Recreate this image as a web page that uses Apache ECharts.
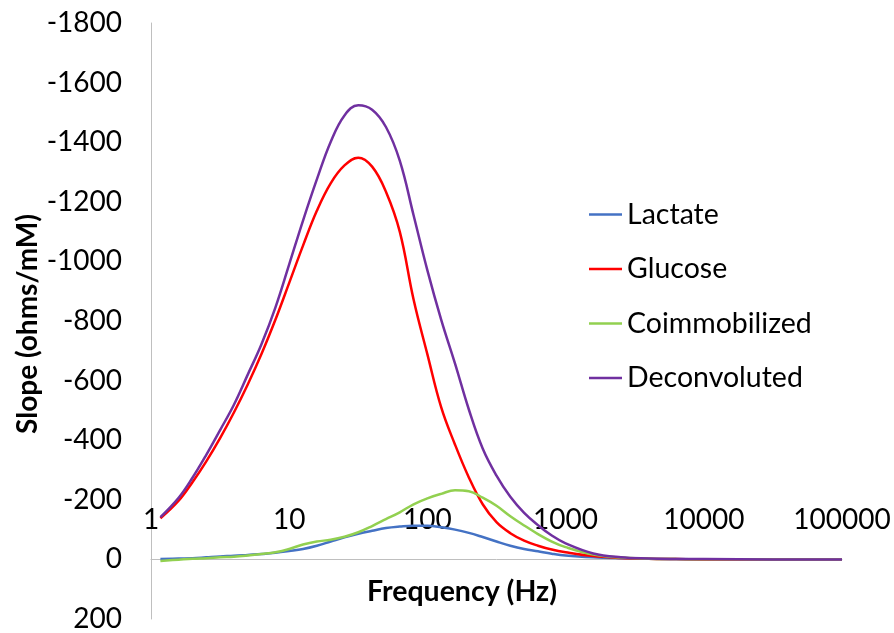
<!DOCTYPE html>
<html>
<head>
<meta charset="utf-8">
<script src="https://cdn.jsdelivr.net/npm/echarts@6/dist/echarts.min.js"></script>
<style>
  html, body { margin: 0; padding: 0; background: #ffffff; }
  #chart { width: 894px; height: 633px; }
</style>
</head>
<body>
<div id="chart"></div>
<script>
// Frequencies (Hz)
const frequency = [1.17, 1.585, 1.995, 2.512, 3.162, 3.981, 5.012, 6.31, 7.943, 10,
  12.59, 15.85, 19.95, 25.12, 31.62, 39.81, 50.12, 63.1, 79.43, 100,
  125.9, 158.5, 199.5, 251.2, 316.2, 398.1, 501.2, 631, 794.3, 1000,
  1585, 2512, 3981, 6310, 10000, 31623, 100000];

const lactate = [-1, -3, -4, -7, -10, -12, -15, -18, -22, -28,
  -35, -46, -60, -74, -86, -96, -105, -110, -113, -113,
  -108, -100, -89, -75, -60, -46, -35, -27, -19, -13,
  -7, -4, -2, -1, -0.5, 0, 0];

const glucose = [-138, -197, -259, -329, -407, -493, -587, -690, -804, -928,
  -1053, -1170, -1262, -1322, -1348, -1318, -1234, -1100, -872, -688,
  -510, -385, -275, -185, -125, -88, -63, -46, -33, -24,
  -11, -5, -2, -1, 0, 0, 0];

const coimmobilized = [5, 1, -2, -4, -7, -9, -13, -18, -24, -35,
  -50, -60, -66, -76, -91, -112, -135, -158, -185, -205,
  -220, -232, -229, -207, -180, -145, -114, -85, -60, -41,
  -16, -6, -2.5, -1, -0.5, 0, 0];

const deconvoluted = [-142, -207, -274, -351, -434, -519, -620, -723, -845, -990,
  -1137, -1275, -1401, -1490, -1524, -1509, -1451, -1338, -1155, -970,
  -804, -657, -503, -372, -281, -210, -156, -115, -80, -54,
  -20, -7, -3, -1.5, -1, 0, 0];

const seriesNames = ['Lactate', 'Glucose', 'Coimmobilized', 'Deconvoluted'];
const seriesColors = ['#4472C4', '#FF0000', '#92D050', '#7030A0'];
const seriesValues = [lactate, glucose, coimmobilized, deconvoluted];

const yTicks = { min: -1800, max: 200, interval: 200 };
const xRange = { min: 1, max: 100000 };

const FONT = 'Lato';

const chart = echarts.init(document.getElementById('chart'), null, { renderer: 'canvas' });

const series = seriesNames.map((name, i) => ({
  name: name,
  type: 'line',
  xAxisIndex: 0,
  smooth: 0.4,
  symbol: 'none',
  showSymbol: false,
  lineStyle: { color: seriesColors[i], width: 2.5 },
  itemStyle: { color: seriesColors[i] },
  data: frequency.map((f, j) => [f, seriesValues[i][j]])
}));

const logAxisBase = {
  type: 'log',
  logBase: 10,
  min: xRange.min,
  max: xRange.max,
  axisTick: { show: false },
  splitLine: { show: false },
  minorTick: { show: false }
};

chart.setOption({
  animation: false,
  backgroundColor: '#ffffff',
  grid: { left: 151, right: 52, top: 23, bottom: 13, containLabel: false },
  xAxis: [
    Object.assign({}, logAxisBase, {
      position: 'bottom',
      axisLine: { show: true, onZero: true, lineStyle: { color: '#BFBFBF', width: 1 } },
      axisLabel: { show: false }
    }),
    Object.assign({}, logAxisBase, {
      position: 'bottom',
      offset: -113,
      axisLine: { show: false, onZero: false },
      axisLabel: {
        margin: 0,
        color: '#000000',
        fontFamily: FONT,
        fontSize: 28,
        formatter: function (v) { return String(Math.round(v)); }
      }
    })
  ],
  yAxis: {
    type: 'value',
    inverse: true,
    min: yTicks.min,
    max: yTicks.max,
    interval: yTicks.interval,
    axisLine: { show: true, onZero: false, lineStyle: { color: '#BFBFBF', width: 1 } },
    axisTick: { show: false },
    splitLine: { show: false },
    axisLabel: {
      margin: 29,
      color: '#000000',
      fontFamily: FONT,
      fontSize: 28,
      formatter: function (v) { return String(v); }
    }
  },
  legend: {
    orient: 'vertical',
    left: 584,
    top: 195,
    icon: 'rect',
    itemWidth: 33,
    itemHeight: 2.5,
    itemGap: 25.5,
    data: seriesNames,
    textStyle: { color: '#000000', fontFamily: FONT, fontSize: 28.5 }
  },
  graphic: [
    {
      type: 'text',
      x: 28,
      y: 324,
      rotation: Math.PI / 2,
      style: {
        text: 'Slope (ohms/mM)',
        fill: '#000000',
        font: 'bold 28px ' + FONT,
        textAlign: 'center',
        textVerticalAlign: 'middle'
      }
    },
    {
      type: 'text',
      x: 462,
      y: 592,
      style: {
        text: 'Frequency (Hz)',
        fill: '#000000',
        font: 'bold 28.5px ' + FONT,
        textAlign: 'center',
        textVerticalAlign: 'middle'
      }
    }
  ],
  series: series
});
</script>
</body>
</html>
